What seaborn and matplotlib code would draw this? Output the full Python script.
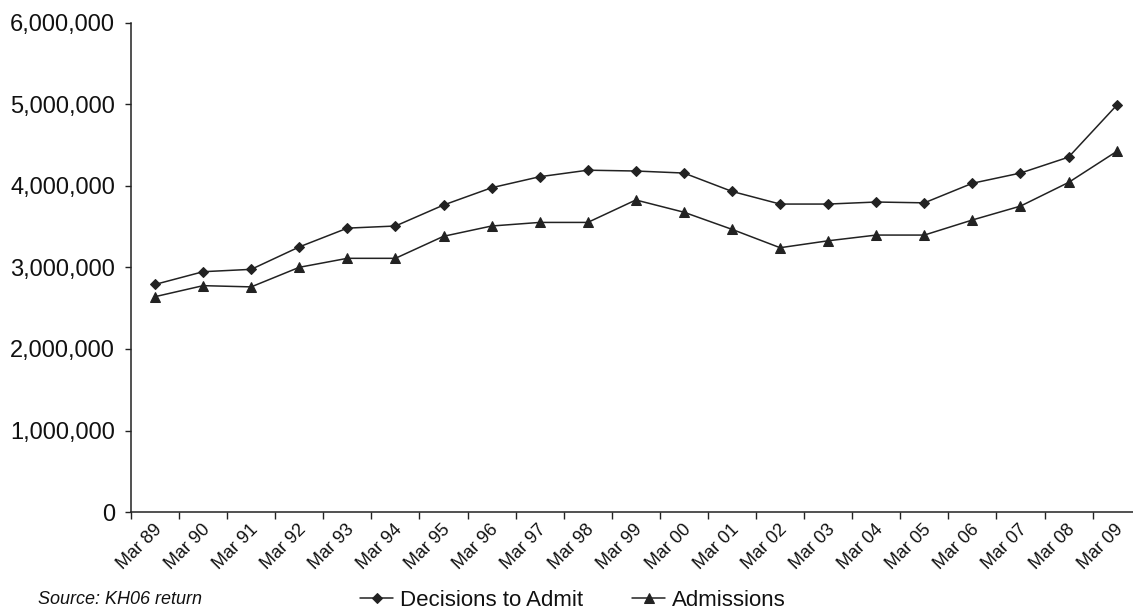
import matplotlib
matplotlib.use("Agg")
import matplotlib.pyplot as plt
import matplotlib.transforms as mtransforms
from matplotlib.ticker import FuncFormatter, FixedLocator
import pandas as pd
import seaborn as sns

# Financial years (March of each year)
months = ["Mar 89", "Mar 90", "Mar 91", "Mar 92", "Mar 93", "Mar 94", "Mar 95",
          "Mar 96", "Mar 97", "Mar 98", "Mar 99", "Mar 00", "Mar 01", "Mar 02",
          "Mar 03", "Mar 04", "Mar 05", "Mar 06", "Mar 07", "Mar 08", "Mar 09"]

decisions_to_admit = [2790000, 2946000, 2975000, 3250000, 3480000, 3506000, 3763000,
                      3975000, 4110000, 4190000, 4180000, 4155000, 3930000, 3775000,
                      3775000, 3800000, 3790000, 4030000, 4155000, 4350000, 4985000]

admissions = [2640000, 2775000, 2760000, 3000000, 3110000, 3110000, 3380000,
              3506000, 3550000, 3550000, 3825000, 3675000, 3465000, 3240000,
              3325000, 3395000, 3395000, 3580000, 3750000, 4040000, 4420000]

y_ticks = [0, 1000000, 2000000, 3000000, 4000000, 5000000, 6000000]

df = pd.DataFrame({
    "month": months * 2,
    "pos": list(range(len(months))) * 2,
    "value": decisions_to_admit + admissions,
    "series": ["Decisions to Admit"] * len(months) + ["Admissions"] * len(months),
})

sns.set_theme(style="white")
plt.rcParams["font.family"] = ["Liberation Sans", "DejaVu Sans"]

fig = plt.figure(figsize=(11.33, 6.10), dpi=100)
ax = fig.add_axes([131 / 1133, (610 - 512.1) / 610, 1009.7 / 1133, 489.6 / 610])

ink = "#222222"
sns.lineplot(data=df[df.series == "Decisions to Admit"], x="pos", y="value",
             ax=ax, color=ink, lw=1.1, marker="D", markersize=5.2,
             markeredgecolor=ink, label="Decisions to Admit")
sns.lineplot(data=df[df.series == "Admissions"], x="pos", y="value",
             ax=ax, color=ink, lw=1.1, marker="^", markersize=7,
             markeredgecolor=ink, label="Admissions")

ax.set_xlim(-0.5, len(months) - 0.5)
ax.set_ylim(0, 6000000)
ax.set_xlabel("")
ax.set_ylabel("")

# y axis
ax.set_yticks(y_ticks)
ax.yaxis.set_major_formatter(FuncFormatter(lambda v, p: f"{int(v):,}"))
ax.tick_params(axis="y", which="major", direction="out", length=4.5, width=1,
               color=ink, pad=7, labelsize=17, labelcolor="#111111", left=True)

# x axis: labels at the category centres, tick marks on the boundaries
ax.set_xticks(range(len(months)))
ax.set_xticklabels(months, rotation=45, ha="right", va="center",
                   rotation_mode="anchor")
ax.xaxis.set_minor_locator(FixedLocator([i - 0.5 for i in range(len(months) + 1)]))
ax.tick_params(axis="x", which="major", length=0, pad=11, labelsize=13,
               labelcolor="#111111", bottom=True)
ax.tick_params(axis="x", which="minor", direction="out", length=5, width=1,
               color=ink, bottom=True)
shift = mtransforms.ScaledTranslation(3 / 72, 0, fig.dpi_scale_trans)
for lab in ax.get_xticklabels():
    lab.set_transform(lab.get_transform() + shift)

for side in ("top", "right"):
    ax.spines[side].set_visible(False)
for side in ("left", "bottom"):
    ax.spines[side].set_color(ink)
    ax.spines[side].set_linewidth(1.1)
ax.grid(False)

ax.get_legend().remove()
handles, labels = ax.get_legend_handles_labels()
fig.legend(handles, labels, loc="center", bbox_to_anchor=(573 / 1133, 0.016),
           ncol=2, frameon=False, fontsize=16, handlelength=1.5,
           handletextpad=0.3, columnspacing=2.2, labelcolor="#111111")

fig.text(38 / 1133, 2 / 610, "Source: KH06 return", fontsize=13,
         style="italic", ha="left", va="bottom", color="#111111")

fig.savefig("out.png", dpi=100)
